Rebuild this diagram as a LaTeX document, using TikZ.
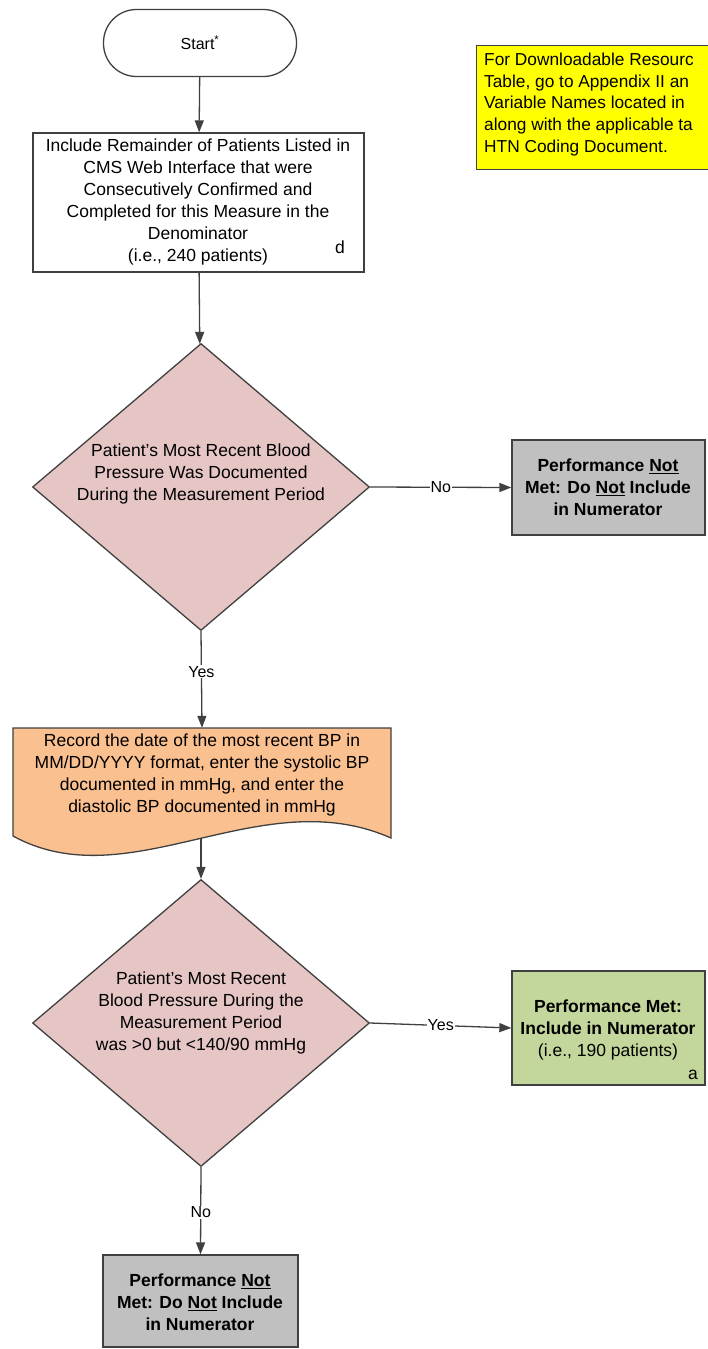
\documentclass[tikz,border=0pt]{standalone}
\usepackage{fontspec}
\setmainfont{Liberation Sans}
\usetikzlibrary{shapes.geometric,arrows.meta}
\definecolor{bord}{HTML}{404040}
\definecolor{pinkd}{HTML}{E6C5C5}
\definecolor{orangedoc}{HTML}{FAC090}
\definecolor{grayb}{HTML}{C0C0C0}
\definecolor{greenb}{HTML}{C3D69B}
\definecolor{yel}{HTML}{FFFF00}
\tikzset{
  bx/.style={draw=bord, line width=1.3pt, inner sep=0pt},
  txt/.style={align=center, font=\fontsize{17.5}{22}\selectfont, inner sep=0pt},
  btxt/.style={align=center, font=\bfseries\fontsize{17.5}{22}\selectfont, inner sep=0pt},
  conn/.style={draw=bord, line width=1.3pt, -{Triangle[length=12pt,width=9pt]}},
  lab/.style={fill=white, inner sep=1pt, font=\fontsize{16}{18}\selectfont},
}
\begin{document}
\begin{tikzpicture}[x=1pt,y=-1pt]
\useasboundingbox (0,0) rectangle (707,1349);
% start
\node[bx, rounded corners=33pt, minimum width=193pt, minimum height=67pt] (start) at (200,43) {};
\node[txt, font=\fontsize{16}{20}\selectfont] at (200,43) {Start\textsuperscript{*}};
% box1
\node[bx, minimum width=331pt, minimum height=139pt] (box1) at (198.5,202.5) {};
\node[txt] at (198,202) {Include Remainder of Patients Listed in\\CMS Web Interface that were\\Consecutively Confirmed and\\Completed for this Measure in the\\Denominator\\(i.e., 240 patients)};
\node[txt] (dlab) at (340,247) {d};
% yellow note
\node[bx, fill=yel, minimum width=260pt, minimum height=124pt, anchor=north west] (note) at (476,45) {};
\node[anchor=north west, align=left, font=\fontsize{17.3}{21.6}\selectfont, inner sep=0pt] (notetxt) at (484,53) {For Downloadable Resourc\\Table, go to Appendix II an\\Variable Names located in\\along with the applicable ta\\HTN Coding Document.};
% diamond1
\node[bx, diamond, fill=pinkd, minimum width=337pt, minimum height=287pt] (d1) at (201,487) {};
\node[txt] at (201,474) {Patient's Most Recent Blood\\Pressure Was Documented\\During the Measurement Period};
% gray box 1
\node[bx, fill=grayb, minimum width=193pt, minimum height=95pt] (g1) at (608.5,487.5) {};
\node[btxt] at (608,487) {Performance \underline{Not}\\Met: Do \underline{Not} Include\\in Numerator};
% document
\path[draw=bord, line width=1.3pt, fill=orangedoc] (13,728) -- (391,728) -- (391,838) .. controls (260,780) and (130,900) .. (13,836) -- cycle;
\node[minimum width=378pt, minimum height=110pt, inner sep=0pt] (doc) at (202,783) {};
\node[txt] at (202,775) {Record the date of the most recent BP in\\MM/DD/YYYY format, enter the systolic BP\\documented in mmHg, and enter the\\diastolic BP documented in mmHg};
\coordinate (docb) at (201,838);
% diamond2
\node[bx, diamond, fill=pinkd, minimum width=337pt, minimum height=287pt] (d2) at (201,1023) {};
\node[txt] at (201,1013) {Patient's Most Recent\\Blood Pressure During the\\Measurement Period\\was >0 but <140/90 mmHg};
% green box
\node[bx, fill=greenb, minimum width=193pt, minimum height=114pt] (gr) at (608.5,1028) {};
\node[txt] at (608,1030) {\textbf{Performance Met:}\\\textbf{Include in Numerator}\\(i.e., 190 patients)};
\node[txt] (alab) at (693,1075) {a};
% gray box 2
\node[bx, fill=grayb, minimum width=195pt, minimum height=92pt] (g2) at (200.5,1301) {};
\node[btxt] at (200,1302) {Performance \underline{Not}\\Met: Do \underline{Not} Include\\in Numerator};
% connectors
\draw[conn] (start) -- (box1);
\draw[conn] (box1) -- (d1);
\draw[conn] (d1.east) -- node[lab]{No} (g1.west);
\draw[conn] (d1.south) -- node[lab, pos=0.42]{Yes} (doc.north);
\draw[conn] (docb) -- (d2.north);
\draw[conn] (d2.east) -- node[lab]{Yes} (gr.west);
\draw[conn] (d2.south) -- node[lab, pos=0.52]{No} (g2.north);
\end{tikzpicture}
\end{document}
